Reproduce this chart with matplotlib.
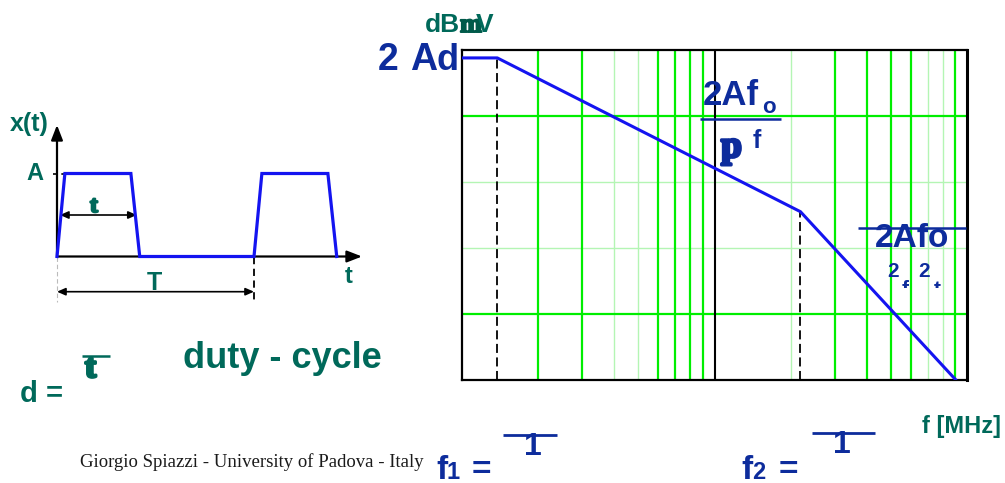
import matplotlib
matplotlib.use("Agg")
import matplotlib.pyplot as plt
import matplotlib.patheffects as pe
from matplotlib.transforms import Bbox

# ---- data ---------------------------------------------------------------
# trapezoidal pulse train (time in periods, amplitude in units of A)
t_wave = [0.0, 0.04, 0.375, 0.42, 1.0, 1.04, 1.375, 1.42]
x_wave = [0.0, 1.0, 1.0, 0.0, 0.0, 1.0, 1.0, 0.0]
tau_end = 0.405
period = 1.0

# spectrum envelope (frequency in MHz, level in dB)
freq_mhz = [0.1, 0.138, 2.19, 9.04]
level_db = [48.8, 48.8, 25.5, 0.0]
f1_mhz = 0.138
f2_mhz = 2.19

# grid styling per decade: multipliers drawn bright / faint
bright_dec1 = [2, 3, 6, 7, 8, 9]
faint_dec1 = [4, 5]
bright_dec2 = [3, 4, 5, 6, 9]
faint_dec2 = [2, 7, 8]
bright_db = [10, 40]
faint_db = [20, 30]

TEAL = "#00695A"
BLUE = "#0D2C9C"
LINE_BLUE = "#1414F0"
GREEN = "#00EE00"
LGREEN = "#B4F5B4"

W, H = 1005, 483
fig = plt.figure(figsize=(W / 100, H / 100), dpi=100)
fig.patch.set_facecolor("white")


def fig_rect(left, top, right, bottom):
    return [left / W, 1 - bottom / H, (right - left) / W, (bottom - top) / H]


# ---- spectrum -----------------------------------------------------------
ax = fig.add_axes(fig_rect(462, 50, 967, 380))
ax.set_xscale("log")
ax.set_xlim(0.1, 10.0)
ax.set_ylim(0, 50)
ax.tick_params(which="both", length=0, labelbottom=False, labelleft=False)
for s in ax.spines.values():
    s.set_linewidth(1.6)
    s.set_color("black")
ax.spines["right"].set_linewidth(2.2)

for m in faint_dec1:
    ax.axvline(m * 0.1, color=LGREEN, lw=1.0, zorder=1)
for m in faint_dec2:
    ax.axvline(m * 1.0, color=LGREEN, lw=1.0, zorder=1)
for m in bright_dec1:
    ax.axvline(m * 0.1, color=GREEN, lw=1.6, zorder=2)
for m in bright_dec2:
    ax.axvline(m * 1.0, color=GREEN, lw=1.6, zorder=2)
for v in faint_db:
    ax.axhline(v, color=LGREEN, lw=1.0, zorder=1)
for v in bright_db:
    ax.axhline(v, color=GREEN, lw=1.6, zorder=2)
ax.axvline(1.0, color="black", lw=1.5, zorder=3)

ax.vlines([f1_mhz], 0, level_db[1], colors="black", lw=1.3,
          linestyles=[(0, (5, 2.5))], zorder=4)
ax.vlines([f2_mhz], 0, level_db[2], colors="black", lw=1.3,
          linestyles=[(0, (5, 2.5))], zorder=4)
ax.plot(freq_mhz, level_db, color=LINE_BLUE, lw=2.2, zorder=5,
        solid_capstyle="round")

# ---- waveform -----------------------------------------------------------
PX0, PY0, SX, SY = 57.0, 256.5, 197.0, 83.0  # origin and scale in pixels
wl, wt, wr, wb = 0, 100, 400, 310
wax = fig.add_axes(fig_rect(wl, wt, wr, wb))
wax.set_xlim((wl - PX0) / SX, (wr - PX0) / SX)
wax.set_ylim((PY0 - wb) / SY, (PY0 - wt) / SY)
wax.axis("off")

y_tip = (PY0 - 125) / SY
x_tip = (362 - PX0) / SX
wax.plot(t_wave, x_wave, color=LINE_BLUE, lw=2.3, zorder=4,
         solid_joinstyle="miter")
wax.annotate("", xy=(0, y_tip), xytext=(0, 0),
             arrowprops=dict(arrowstyle="-|>,head_length=0.9,head_width=0.35",
                             lw=1.6, color="black", shrinkA=0, shrinkB=0))
wax.annotate("", xy=(x_tip, 0), xytext=(0, 0),
             arrowprops=dict(arrowstyle="-|>,head_length=0.9,head_width=0.35",
                             lw=1.6, color="black", shrinkA=0, shrinkB=0))
wax.plot([-0.02, 0.08], [1, 1], color="black", lw=1.2,
         linestyle=(0, (3, 2)), zorder=3)

y_tau = (PY0 - 215) / SY
wax.annotate("", xy=(tau_end, y_tau), xytext=(0.015, y_tau),
             arrowprops=dict(arrowstyle="<|-|>,head_length=0.5,head_width=0.22",
                             lw=1.2, color="black", shrinkA=0, shrinkB=0))
y_T = (PY0 - 291.7) / SY
wax.annotate("", xy=(period, y_T), xytext=(0, y_T),
             arrowprops=dict(arrowstyle="<|-|>,head_length=0.5,head_width=0.22",
                             lw=1.2, color="black", shrinkA=0, shrinkB=0))
y_low = (PY0 - 302) / SY
wax.plot([period, period], [0, y_low], color="black", lw=1.3,
         linestyle=(0, (4, 2.5)))
wax.plot([0, 0], [0, y_low], color="#BBBBBB", lw=0.8,
         linestyle=(0, (4, 2.5)))

# ---- text overlay in pixel coordinates -----------------------------------
tx = fig.add_axes([0, 0, 1, 1], facecolor="none")
tx.set_xlim(0, W)
tx.set_ylim(H, 0)
tx.axis("off")

SANS = "Liberation Sans"
SERIF = "Liberation Serif"


def put(x, y, s, size, color, family=SANS, weight="bold", ha="left"):
    return tx.text(x, y, s, fontsize=size, color=color, family=family,
                   weight=weight, ha=ha, va="baseline")


def heavy(x, y, s, size, color, stroke=1.6):
    # heavy serif glyph: bold serif face thickened with an outline stroke
    t = put(x, y, s, size, color, family=SERIF)
    t.set_path_effects([pe.withStroke(linewidth=stroke, foreground=color)])
    return t


def bar(x0, x1, y, lw, color):
    tx.plot([x0, x1], [y, y], color=color, lw=lw, solid_capstyle="butt")


# waveform labels
put(10, 131, "x(t)", 18, TEAL)
put(26, 180, "A", 17, TEAL)
heavy(90, 212, "t", 17, TEAL)
put(345, 283, "t", 17, TEAL)
put(147, 290, "T", 18, TEAL)

# duty cycle
put(20, 402, "d =", 21, TEAL)
heavy(85, 377, "t", 24, TEAL, stroke=2.2)
bar(82, 110, 356, 1.8, TEAL)
put(183, 368, "duty - cycle", 26, TEAL)

put(80, 467, "Giorgio Spiazzi - University of Padova - Italy", 13.5,
    "#1A1A1A", family=SERIF, weight="normal")

# axis labels of the spectrum
put(425, 32, "dB", 19, TEAL)
heavy(460, 32, "m", 19, "#005A4A", stroke=1.4)
put(476, 32, "V", 19, TEAL)
put(1001, 433, "f [MHz]", 17, TEAL, ha="right")

# level at low frequency
put(378, 70, "2", 27, BLUE)
put(410, 70, "A", 27, BLUE)
put(437, 70, "d", 26, BLUE)

# -20 dB/dec asymptote
put(703, 105, "2Af", 25, BLUE)
put(762, 113, "o", 16, BLUE)
bar(700, 781, 119, 1.8, BLUE)
heavy(721, 157, "p", 27, BLUE, stroke=2.2)
put(753, 148, "f", 18, BLUE)

# -40 dB/dec asymptote
put(875, 247, "2Afo", 24, BLUE)
bar(858, 966, 228, 1.8, BLUE)
put(887, 277, "2", 15, BLUE)
put(918, 277, "2", 15, BLUE)
# only the upper edge of the next line shows below the fraction
clip_box = Bbox.from_extents(895, H - 287.5, 955, H - 279)
for xx, s in [(902, "f"), (934, "t")]:
    t = put(xx, 295, s, 15, BLUE)
    t.set_clip_box(clip_box)
    t.set_clip_on(True)

# corner frequencies
put(436, 479, "f", 24, BLUE)
put(447, 479, "1", 17, BLUE)
put(472, 479, "=", 24, BLUE)
bar(503, 557, 435, 2.0, BLUE)
put(524, 455, "1", 23, BLUE)

put(741, 479, "f", 24, BLUE)
put(752, 479, "2", 17, BLUE)
put(779, 479, "=", 24, BLUE)
bar(812, 875, 433, 2.0, BLUE)
put(833, 453, "1", 23, BLUE)

fig.savefig("out.png", dpi=100, facecolor="white")
